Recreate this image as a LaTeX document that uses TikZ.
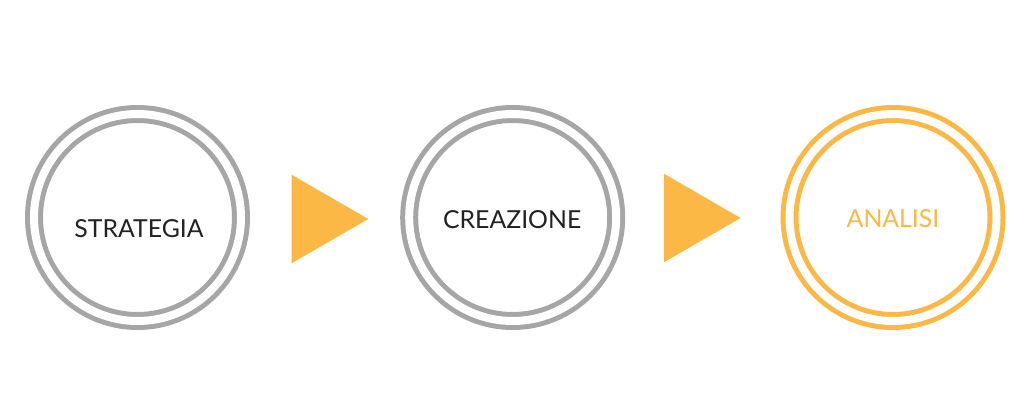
\documentclass[tikz,border=0pt]{standalone}
\usepackage{fontspec}
\setmainfont{Lato}
\usetikzlibrary{shapes.geometric}
\definecolor{ringgray}{HTML}{A6A6A6}
\definecolor{ringorange}{HTML}{FBB845}
\definecolor{txtdark}{HTML}{222222}
\begin{document}
\begin{tikzpicture}[x=1pt,y=-1pt,
  ring/.style={circle,draw=#1,line width=5pt,double=white,double distance=8pt,minimum size=207pt,inner sep=0pt,outer sep=0pt},
  lbl/.style={font=\fontsize{24.8}{28}\selectfont,text=#1,inner sep=0pt},
  arrowtri/.style={isosceles triangle,isosceles triangle stretches=true,fill=ringorange,minimum height=76.5pt,minimum width=88.5pt,inner sep=0pt,outer sep=0pt,anchor=lower side}]
\path[use as bounding box,fill=white] (0,0) rectangle (1024,409);
\node[ring=ringgray] (c1) at (137.5,217.5) {};
\node[ring=ringgray] (c2) at (512.7,217.5) {};
\node[ring=ringorange] (c3) at (893,217.5) {};
\node[lbl=txtdark] (t1) at (139,228.5) {STRATEGIA};
\node[lbl=txtdark] (t2) at (512.2,219.8) {CREAZIONE};
\node[lbl=ringorange] (t3) at (893,218.5) {ANALISI};
\node[arrowtri] (a1) at (291.7,219) {};
\node[arrowtri] (a2) at (664,218) {};
\end{tikzpicture}
\end{document}
